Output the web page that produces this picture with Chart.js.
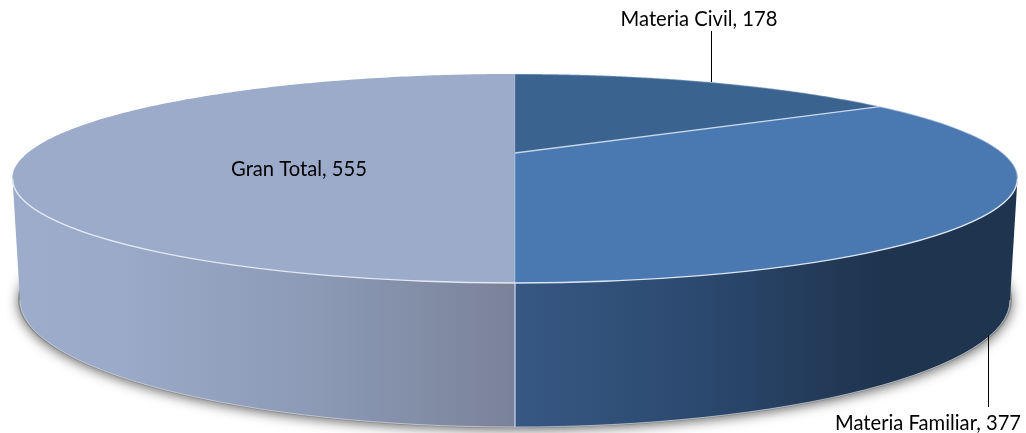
<!DOCTYPE html>
<html><head><meta charset="utf-8">
<style>html,body{margin:0;padding:0;background:#fff}canvas{display:block}</style>
<script src="https://cdn.jsdelivr.net/npm/chart.js@4/dist/chart.umd.min.js"></script>
</head><body>
<canvas id="c" width="1026" height="433"></canvas>
<script>
const categories = ["Materia Civil", "Materia Familiar", "Gran Total"];
const seriesValues = [178, 377, 555];
const topColors = ["#3B6390", "#4A78B1", "#9CABC9"];
const wallStops = [
  null,
  [[0, "#375884"], [0.35, "#2C4A70"], [0.72, "#1F344F"], [1, "#1F344F"]],
  [[0, "#9DACCB"], [0.2, "#9BAAC8"], [0.6, "#8C9AB6"], [1, "#7A8299"]]
];
const wallSpans = [null, [515, 1018], [13, 515]];
const edgeAlpha = [0.2, 0.85, 0.3];
const backRimAlpha = [0.35, 0.45, 0];
const labelSpots = [
  {x: 699, y: 19, line: [711.5, 31, 711.5, 82]},
  {x: 928, y: 423, line: [988.5, 335, 988.5, 407]},
  {x: 299, y: 169, line: null}
];

// perspective disc: centre of the pie projects above the centre of the ellipse
const P = {cx: 515, cy: 153, a: 487.5, b: 98.3, k: 0.244};
const TOP = {cx: 515, cy: 178.5, rx: 502.5, ry: 104.5};
const BOT = {cx: 515, cy: 300, rx: 495, ry: 127};

function project(angle) {
  const t = angle + Math.PI / 2, u = Math.sin(t), v = -Math.cos(t), w = 1 - P.k * v;
  return [P.cx + P.a * u / w, P.cy + P.b * v / w];
}
function ellipsePhi(angle) {
  const p = project(angle);
  return Math.atan2((p[1] - TOP.cy) / TOP.ry, (p[0] - TOP.cx) / TOP.rx);
}
function arcPath(ctx, s, e) {
  for (let i = 0; i <= 240; i++) {
    const p = project(s + (e - s) * i / 240);
    ctx.lineTo(p[0], p[1]);
  }
}
function phiRange(arc) {
  let a = ellipsePhi(arc.startAngle), b = ellipsePhi(arc.endAngle);
  if (b <= a) b += Math.PI * 2;
  return [a, b];
}

const pie3d = {
  id: "pie3d",
  beforeDatasetDraw(chart) {
    const ctx = chart.ctx, arcs = chart.getDatasetMeta(0).data;
    // soft shadow under the disc
    ctx.save();
    ctx.shadowColor = "rgba(70,70,70,0.8)";
    ctx.shadowBlur = 12;
    ctx.shadowOffsetY = 2;
    ctx.fillStyle = "#8a8a8a";
    ctx.beginPath();
    ctx.ellipse(BOT.cx, BOT.cy, BOT.rx + 2, BOT.ry + 1, 0, 0, Math.PI * 2);
    ctx.fill();
    ctx.restore();
    // walls
    arcs.forEach((arc, i) => {
      if (!wallStops[i]) return;
      const r = phiRange(arc), a = Math.max(r[0], 0), b = Math.min(r[1], Math.PI);
      const g = ctx.createLinearGradient(wallSpans[i][0], 0, wallSpans[i][1], 0);
      wallStops[i].forEach(s => g.addColorStop(s[0], s[1]));
      ctx.save();
      ctx.beginPath();
      ctx.ellipse(TOP.cx, TOP.cy, TOP.rx, TOP.ry, 0, a, b);
      ctx.ellipse(BOT.cx, BOT.cy, BOT.rx, BOT.ry, 0, b, a, true);
      ctx.closePath();
      ctx.fillStyle = g;
      ctx.fill();
      ctx.beginPath();
      ctx.ellipse(BOT.cx, BOT.cy, BOT.rx, BOT.ry, 0, a, b);
      ctx.strokeStyle = "rgba(225,230,240,0.6)";
      ctx.lineWidth = 1;
      ctx.stroke();
      ctx.restore();
    });
    // seam at the front of the wall
    ctx.save();
    ctx.strokeStyle = "rgba(205,218,238,0.85)";
    ctx.lineWidth = 1.4;
    ctx.beginPath();
    ctx.moveTo(515, TOP.cy + TOP.ry);
    ctx.lineTo(515, BOT.cy + BOT.ry);
    ctx.stroke();
    ctx.restore();
    // top face
    arcs.forEach(arc => {
      ctx.save();
      ctx.beginPath();
      ctx.moveTo(P.cx, P.cy);
      arcPath(ctx, arc.startAngle, arc.endAngle);
      ctx.closePath();
      ctx.fillStyle = arc.options.backgroundColor;
      ctx.fill();
      ctx.restore();
    });
    // slice edges and rim highlights
    arcs.forEach((arc, i) => {
      const p = project(arc.startAngle), r = phiRange(arc);
      ctx.save();
      ctx.lineWidth = 1.3;
      ctx.strokeStyle = "rgba(215,228,245," + edgeAlpha[i] + ")";
      ctx.beginPath();
      ctx.moveTo(P.cx, P.cy);
      ctx.lineTo(p[0], p[1]);
      ctx.stroke();
      if (backRimAlpha[i] > 0 && r[0] < 0) {
        ctx.strokeStyle = "rgba(215,228,245," + backRimAlpha[i] + ")";
        ctx.beginPath();
        ctx.ellipse(TOP.cx, TOP.cy, TOP.rx, TOP.ry, 0, r[0], Math.min(r[1], 0));
        ctx.stroke();
      }
      const a = Math.max(r[0], 0), b = Math.min(r[1], Math.PI);
      if (b > a) {
        ctx.strokeStyle = "rgba(232,238,248,0.92)";
        ctx.lineWidth = 1.4;
        ctx.beginPath();
        ctx.ellipse(TOP.cx, TOP.cy, TOP.rx, TOP.ry, 0, a, b);
        ctx.stroke();
      }
      ctx.restore();
    });
    return false;
  },
  afterDatasetsDraw(chart) {
    const ctx = chart.ctx, lab = chart.data.labels, vals = chart.data.datasets[0].data;
    ctx.save();
    ctx.fillStyle = "#000";
    ctx.strokeStyle = "#000";
    ctx.lineWidth = 1;
    ctx.font = "20.2px Lato, 'Open Sans', sans-serif";
    ctx.textAlign = "center";
    ctx.textBaseline = "middle";
    labelSpots.forEach((s, i) => {
      if (s.line) {
        ctx.beginPath();
        ctx.moveTo(s.line[0], s.line[1]);
        ctx.lineTo(s.line[2], s.line[3]);
        ctx.stroke();
      }
      ctx.fillText(lab[i] + ", " + vals[i], s.x, s.y);
    });
    ctx.restore();
  }
};

new Chart(document.getElementById("c"), {
  type: "pie",
  data: {labels: categories, datasets: [{data: seriesValues, backgroundColor: topColors, borderWidth: 0}]},
  options: {
    responsive: false,
    devicePixelRatio: 1,
    animation: false,
    events: [],
    rotation: 0,
    plugins: {legend: {display: false}, tooltip: {enabled: false}}
  },
  plugins: [pie3d]
});
</script>
</body></html>
